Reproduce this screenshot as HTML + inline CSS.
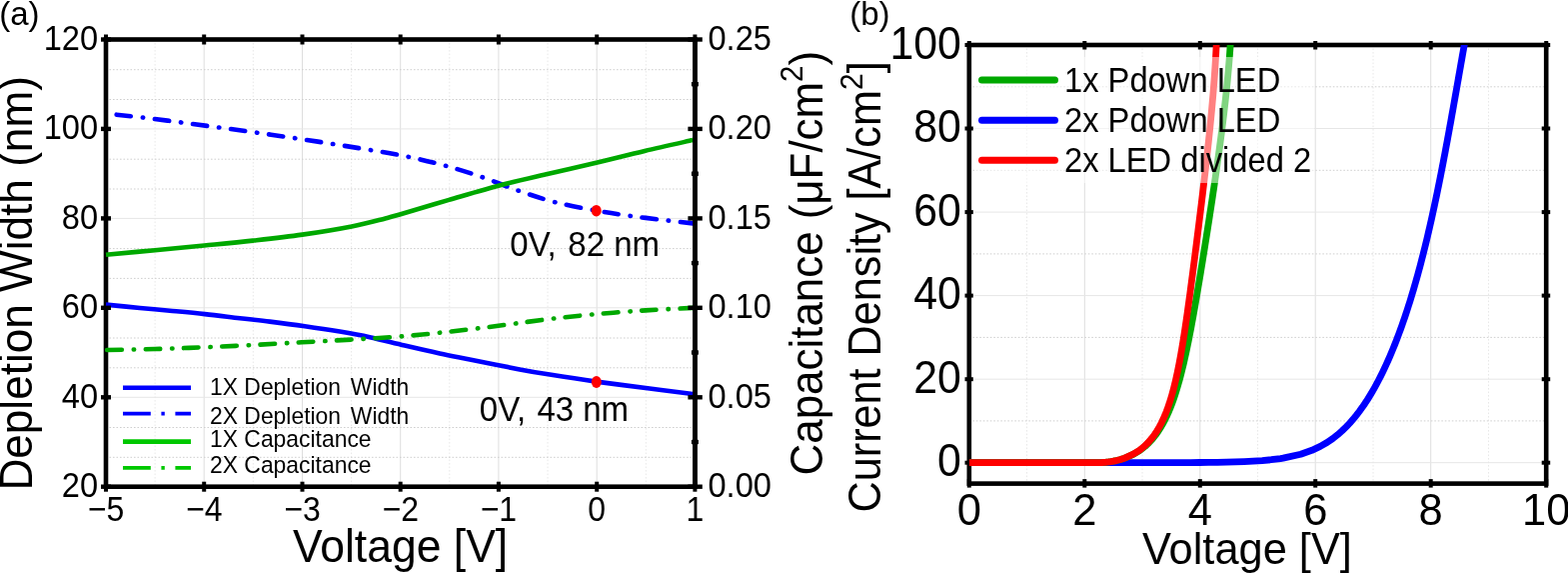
<!DOCTYPE html>
<html lang="en"><head><meta charset="utf-8"><title>Depletion width / capacitance and current density vs voltage</title>
<style>
html,body{margin:0;padding:0;background:#fff;}
body{width:1569px;height:574px;overflow:hidden;}
svg{display:block;}
text{font-family:"Liberation Sans", Arial, Helvetica, sans-serif;fill:#000;}
</style></head><body>
<svg width="1569" height="574" viewBox="0 0 1569 574">
<rect x="0" y="0" width="1569" height="574" fill="#fff"/>
<g id="plot-a">
<line x1="204.2" y1="39.5" x2="204.2" y2="486.7" stroke="#dedede" stroke-width="1"/>
<line x1="302.5" y1="39.5" x2="302.5" y2="486.7" stroke="#dedede" stroke-width="1"/>
<line x1="400.7" y1="39.5" x2="400.7" y2="486.7" stroke="#dedede" stroke-width="1"/>
<line x1="498.9" y1="39.5" x2="498.9" y2="486.7" stroke="#dedede" stroke-width="1"/>
<line x1="597.2" y1="39.5" x2="597.2" y2="486.7" stroke="#dedede" stroke-width="1"/>
<line x1="155.1" y1="39.5" x2="155.1" y2="486.7" stroke="#e8e8e8" stroke-width="1" stroke-dasharray="1.6,1.9"/>
<line x1="253.3" y1="39.5" x2="253.3" y2="486.7" stroke="#e8e8e8" stroke-width="1" stroke-dasharray="1.6,1.9"/>
<line x1="351.6" y1="39.5" x2="351.6" y2="486.7" stroke="#e8e8e8" stroke-width="1" stroke-dasharray="1.6,1.9"/>
<line x1="449.8" y1="39.5" x2="449.8" y2="486.7" stroke="#e8e8e8" stroke-width="1" stroke-dasharray="1.6,1.9"/>
<line x1="548.0" y1="39.5" x2="548.0" y2="486.7" stroke="#e8e8e8" stroke-width="1" stroke-dasharray="1.6,1.9"/>
<line x1="646.3" y1="39.5" x2="646.3" y2="486.7" stroke="#e8e8e8" stroke-width="1" stroke-dasharray="1.6,1.9"/>
<line x1="106.0" y1="397.3" x2="695.4" y2="397.3" stroke="#e6e6e6" stroke-width="1"/>
<line x1="106.0" y1="307.8" x2="695.4" y2="307.8" stroke="#e6e6e6" stroke-width="1"/>
<line x1="106.0" y1="218.4" x2="695.4" y2="218.4" stroke="#e6e6e6" stroke-width="1"/>
<line x1="106.0" y1="128.9" x2="695.4" y2="128.9" stroke="#e6e6e6" stroke-width="1"/>
<line x1="106.0" y1="457.3" x2="695.4" y2="457.3" stroke="#cfcfcf" stroke-width="1" stroke-dasharray="1.6,1.9"/>
<line x1="106.0" y1="427.5" x2="695.4" y2="427.5" stroke="#cfcfcf" stroke-width="1" stroke-dasharray="1.6,1.9"/>
<line x1="106.0" y1="367.8" x2="695.4" y2="367.8" stroke="#cfcfcf" stroke-width="1" stroke-dasharray="1.6,1.9"/>
<line x1="106.0" y1="338.0" x2="695.4" y2="338.0" stroke="#cfcfcf" stroke-width="1" stroke-dasharray="1.6,1.9"/>
<line x1="106.0" y1="278.4" x2="695.4" y2="278.4" stroke="#cfcfcf" stroke-width="1" stroke-dasharray="1.6,1.9"/>
<line x1="106.0" y1="248.6" x2="695.4" y2="248.6" stroke="#cfcfcf" stroke-width="1" stroke-dasharray="1.6,1.9"/>
<line x1="106.0" y1="189.0" x2="695.4" y2="189.0" stroke="#cfcfcf" stroke-width="1" stroke-dasharray="1.6,1.9"/>
<line x1="106.0" y1="159.2" x2="695.4" y2="159.2" stroke="#cfcfcf" stroke-width="1" stroke-dasharray="1.6,1.9"/>
<line x1="106.0" y1="99.5" x2="695.4" y2="99.5" stroke="#cfcfcf" stroke-width="1" stroke-dasharray="1.6,1.9"/>
<line x1="106.0" y1="69.7" x2="695.4" y2="69.7" stroke="#cfcfcf" stroke-width="1" stroke-dasharray="1.6,1.9"/>
<rect x="106.0" y="39.5" width="589.4" height="447.2" fill="none" stroke="#000" stroke-width="4.6"/>
<path d="M106.00,304.60 C111.67,305.17 129.33,306.98 140.00,308.00 C150.67,309.02 159.17,309.68 170.00,310.70 C180.83,311.72 193.33,312.85 205.00,314.10 C216.67,315.35 229.17,316.95 240.00,318.20 C250.83,319.45 259.17,320.27 270.00,321.60 C280.83,322.93 293.33,324.53 305.00,326.20 C316.67,327.87 329.17,329.77 340.00,331.60 C350.83,333.43 359.17,334.87 370.00,337.20 C380.83,339.53 393.33,342.88 405.00,345.60 C416.67,348.32 429.17,351.18 440.00,353.50 C450.83,355.82 456.67,356.85 470.00,359.50 C483.33,362.15 506.67,366.88 520.00,369.40 C533.33,371.92 537.23,372.57 550.00,374.60 C562.77,376.63 579.93,379.28 596.60,381.60 C613.27,383.92 633.90,386.43 650.00,388.50 C666.10,390.57 686.00,393.08 693.20,394.00" fill="none" stroke="#0000ff" stroke-width="4.6" stroke-linejoin="round"/>
<path d="M116.00,114.60 C120.43,115.08 131.85,116.22 142.60,117.50 C153.35,118.78 167.85,120.65 180.50,122.30 C193.15,123.95 205.82,125.68 218.50,127.40 C231.18,129.12 243.90,130.82 256.60,132.60 C269.30,134.38 282.05,136.22 294.70,138.10 C307.35,139.98 319.90,141.92 332.50,143.90 C345.10,145.88 357.62,147.85 370.30,150.00 C382.98,152.15 396.03,154.18 408.60,156.80 C421.17,159.42 433.30,162.28 445.70,165.70 C458.10,169.12 470.77,173.12 483.00,177.30 C495.23,181.48 507.03,186.65 519.10,190.80 C531.17,194.95 542.48,198.90 555.40,202.20 C568.32,205.50 584.08,208.32 596.60,210.60 C609.12,212.88 618.60,214.25 630.50,215.90 C642.40,217.55 657.55,219.25 668.00,220.50 C678.45,221.75 689.00,222.92 693.20,223.40" fill="none" stroke="#0000ff" stroke-width="4.6" stroke-linecap="round" stroke-dasharray="14.3,11.9,0.4,11.78" stroke-dashoffset="-0.8"/>
<path d="M106.00,254.70 C114.18,253.95 138.70,251.73 155.10,250.20 C171.50,248.67 188.08,247.10 204.40,245.50 C220.72,243.90 236.65,242.42 253.00,240.60 C269.35,238.78 286.02,236.97 302.50,234.60 C318.98,232.23 338.07,229.10 351.90,226.40 C365.73,223.70 377.35,220.43 385.50,218.40 C393.65,216.37 390.17,217.28 400.80,214.20 C411.43,211.12 432.37,204.80 449.30,199.90 C466.23,195.00 485.62,189.20 502.40,184.80 C519.18,180.40 534.30,177.17 550.00,173.50 C565.70,169.83 580.75,166.57 596.60,162.80 C612.45,159.03 629.00,154.68 645.10,150.90 C661.20,147.12 685.18,141.90 693.20,140.10" fill="none" stroke="#00a800" stroke-width="4.6" stroke-linejoin="round"/>
<path d="M106.00,350.00 C114.17,349.83 138.67,349.45 155.00,349.00 C171.33,348.55 187.67,347.97 204.00,347.30 C220.33,346.63 236.67,345.83 253.00,345.00 C269.33,344.17 285.67,343.20 302.00,342.30 C318.33,341.40 334.60,340.57 351.00,339.60 C367.40,338.63 384.02,337.82 400.40,336.50 C416.78,335.18 432.92,333.48 449.30,331.70 C465.68,329.92 482.38,327.87 498.70,325.80 C515.02,323.73 530.88,321.25 547.20,319.30 C563.52,317.35 580.10,315.58 596.60,314.10 C613.10,312.62 630.10,311.43 646.20,310.40 C662.30,309.37 685.37,308.32 693.20,307.90" fill="none" stroke="#00a800" stroke-width="4.6" stroke-linecap="round" stroke-dasharray="14.6,11.9,0.4,11.42" stroke-dashoffset="-1.3"/>
<ellipse cx="596.7" cy="210.7" rx="5.0" ry="5.8" fill="#ff0000"/>
<ellipse cx="596.8" cy="381.9" rx="5.0" ry="6.0" fill="#ff0000"/>
<line x1="695.4" y1="39.5" x2="695.4" y2="486.7" stroke="#000" stroke-width="4.6"/>
<line x1="106.0" y1="481.7" x2="106.0" y2="491.7" stroke="#000" stroke-width="4"/>
<line x1="106.0" y1="34.5" x2="106.0" y2="44.5" stroke="#000" stroke-width="4"/>
<line x1="204.2" y1="481.7" x2="204.2" y2="491.7" stroke="#000" stroke-width="4"/>
<line x1="204.2" y1="34.5" x2="204.2" y2="44.5" stroke="#000" stroke-width="4"/>
<line x1="302.5" y1="481.7" x2="302.5" y2="491.7" stroke="#000" stroke-width="4"/>
<line x1="302.5" y1="34.5" x2="302.5" y2="44.5" stroke="#000" stroke-width="4"/>
<line x1="400.7" y1="481.7" x2="400.7" y2="491.7" stroke="#000" stroke-width="4"/>
<line x1="400.7" y1="34.5" x2="400.7" y2="44.5" stroke="#000" stroke-width="4"/>
<line x1="498.9" y1="481.7" x2="498.9" y2="491.7" stroke="#000" stroke-width="4"/>
<line x1="498.9" y1="34.5" x2="498.9" y2="44.5" stroke="#000" stroke-width="4"/>
<line x1="597.2" y1="481.7" x2="597.2" y2="491.7" stroke="#000" stroke-width="4"/>
<line x1="597.2" y1="34.5" x2="597.2" y2="44.5" stroke="#000" stroke-width="4"/>
<line x1="695.4" y1="481.7" x2="695.4" y2="491.7" stroke="#000" stroke-width="4"/>
<line x1="695.4" y1="34.5" x2="695.4" y2="44.5" stroke="#000" stroke-width="4"/>
<line x1="101.0" y1="486.7" x2="111.0" y2="486.7" stroke="#000" stroke-width="4.4"/>
<line x1="101.0" y1="397.3" x2="111.0" y2="397.3" stroke="#000" stroke-width="4.4"/>
<line x1="101.0" y1="307.8" x2="111.0" y2="307.8" stroke="#000" stroke-width="4.4"/>
<line x1="101.0" y1="218.4" x2="111.0" y2="218.4" stroke="#000" stroke-width="4.4"/>
<line x1="101.0" y1="128.9" x2="111.0" y2="128.9" stroke="#000" stroke-width="4.4"/>
<line x1="101.0" y1="39.5" x2="111.0" y2="39.5" stroke="#000" stroke-width="4.4"/>
<line x1="688.4" y1="486.7" x2="702.8" y2="486.7" stroke="#000" stroke-width="4.4"/>
<line x1="688.4" y1="397.3" x2="702.8" y2="397.3" stroke="#000" stroke-width="4.4"/>
<line x1="688.4" y1="307.8" x2="702.8" y2="307.8" stroke="#000" stroke-width="4.4"/>
<line x1="688.4" y1="218.4" x2="702.8" y2="218.4" stroke="#000" stroke-width="4.4"/>
<line x1="688.4" y1="128.9" x2="702.8" y2="128.9" stroke="#000" stroke-width="4.4"/>
<line x1="688.4" y1="39.5" x2="702.8" y2="39.5" stroke="#000" stroke-width="4.4"/>
<line x1="691.9" y1="442.0" x2="698.9" y2="442.0" stroke="#000" stroke-width="4.4"/>
<line x1="691.9" y1="352.5" x2="698.9" y2="352.5" stroke="#000" stroke-width="4.4"/>
<line x1="691.9" y1="263.1" x2="698.9" y2="263.1" stroke="#000" stroke-width="4.4"/>
<line x1="691.9" y1="173.7" x2="698.9" y2="173.7" stroke="#000" stroke-width="4.4"/>
<line x1="691.9" y1="84.2" x2="698.9" y2="84.2" stroke="#000" stroke-width="4.4"/>
<text transform="translate(98.10,497.10) scale(1,1.065)" font-size="32.6" text-anchor="end">20</text>
<text transform="translate(98.10,407.66) scale(1,1.065)" font-size="32.6" text-anchor="end">40</text>
<text transform="translate(98.10,318.22) scale(1,1.065)" font-size="32.6" text-anchor="end">60</text>
<text transform="translate(98.10,228.78) scale(1,1.065)" font-size="32.6" text-anchor="end">80</text>
<text transform="translate(98.10,139.34) scale(1,1.065)" font-size="32.6" text-anchor="end">100</text>
<text transform="translate(98.10,49.90) scale(1,1.065)" font-size="32.6" text-anchor="end">120</text>
<text transform="translate(708.50,497.10) scale(1,1.065)" font-size="32.6">0.00</text>
<text transform="translate(708.50,407.66) scale(1,1.065)" font-size="32.6">0.05</text>
<text transform="translate(708.50,318.22) scale(1,1.065)" font-size="32.6">0.10</text>
<text transform="translate(708.50,228.78) scale(1,1.065)" font-size="32.6">0.15</text>
<text transform="translate(708.50,139.34) scale(1,1.065)" font-size="32.6">0.20</text>
<text transform="translate(708.50,49.90) scale(1,1.065)" font-size="32.6">0.25</text>
<text transform="translate(106.00,520.70) scale(1,1.085)" font-size="32" text-anchor="middle">−5</text>
<text transform="translate(204.23,520.70) scale(1,1.085)" font-size="32" text-anchor="middle">−4</text>
<text transform="translate(302.47,520.70) scale(1,1.085)" font-size="32" text-anchor="middle">−3</text>
<text transform="translate(400.70,520.70) scale(1,1.085)" font-size="32" text-anchor="middle">−2</text>
<text transform="translate(498.93,520.70) scale(1,1.085)" font-size="32" text-anchor="middle">−1</text>
<text transform="translate(597.17,520.70) scale(1,1.085)" font-size="32" text-anchor="middle">0</text>
<text transform="translate(695.40,520.70) scale(1,1.085)" font-size="32" text-anchor="middle">1</text>
<line x1="123" y1="387.7" x2="191" y2="387.7" stroke="#0000ff" stroke-width="4.4"/>
<line x1="123" y1="413.6" x2="191" y2="413.6" stroke="#0000ff" stroke-width="3.8" stroke-dasharray="27.8,10.6,3.4,10.6"/>
<line x1="123" y1="441.6" x2="191" y2="441.6" stroke="#00c800" stroke-width="4.6"/>
<line x1="123" y1="467.9" x2="191" y2="467.9" stroke="#00c800" stroke-width="3.8" stroke-dasharray="27.8,10.6,3.4,10.6"/>
<text transform="translate(210.00,394.90) scale(1,1.054)" font-size="22.9">1X Depletion <tspan x="140.8">Width</tspan></text>
<text transform="translate(210.00,423.60) scale(1,1.054)" font-size="22.9">2X Depletion <tspan x="140.8">Width</tspan></text>
<text transform="translate(210.00,446.90) scale(1,1.054)" font-size="22.9">1X Capacitance</text>
<text transform="translate(210.00,472.60) scale(1,1.054)" font-size="22.9">2X Capacitance</text>
<text transform="translate(0,255.9) scale(1,1.075)" font-size="33"><tspan x="510.3">0V,</tspan><tspan x="568.3">82 nm</tspan></text>
<text transform="translate(0,421) scale(1,1.075)" font-size="33"><tspan x="479.8">0V,</tspan><tspan x="537.4">43 nm</tspan></text>
<text x="0" y="0" font-size="44.14" transform="translate(32.4,490.6) rotate(-90) scale(1,1.03)">Depletion Width (nm)</text>
<text x="0" y="0" font-size="43.9" transform="translate(822.5,475.4) rotate(-90) scale(1,1.065)">Capacitance (μF/cm<tspan font-size="29.5" dy="-18">2</tspan><tspan dy="18">)</tspan></text>
<text transform="translate(293.00,561.60) scale(1,1.02)" font-size="44.5">Voltage [V]</text>
<text x="-0.80" y="25.30" font-size="33">(a)</text>
</g>
<g id="plot-b">
<line x1="1085.3" y1="45.0" x2="1085.3" y2="483.6" stroke="#dedede" stroke-width="1"/>
<line x1="1200.8" y1="45.0" x2="1200.8" y2="483.6" stroke="#dedede" stroke-width="1"/>
<line x1="1316.2" y1="45.0" x2="1316.2" y2="483.6" stroke="#dedede" stroke-width="1"/>
<line x1="1431.7" y1="45.0" x2="1431.7" y2="483.6" stroke="#dedede" stroke-width="1"/>
<line x1="1027.5" y1="45.0" x2="1027.5" y2="483.6" stroke="#e8e8e8" stroke-width="1" stroke-dasharray="1.6,1.9"/>
<line x1="1143.0" y1="45.0" x2="1143.0" y2="483.6" stroke="#e8e8e8" stroke-width="1" stroke-dasharray="1.6,1.9"/>
<line x1="1258.5" y1="45.0" x2="1258.5" y2="483.6" stroke="#e8e8e8" stroke-width="1" stroke-dasharray="1.6,1.9"/>
<line x1="1374.0" y1="45.0" x2="1374.0" y2="483.6" stroke="#e8e8e8" stroke-width="1" stroke-dasharray="1.6,1.9"/>
<line x1="1489.5" y1="45.0" x2="1489.5" y2="483.6" stroke="#e8e8e8" stroke-width="1" stroke-dasharray="1.6,1.9"/>
<line x1="969.8" y1="462.7" x2="1547.2" y2="462.7" stroke="#e6e6e6" stroke-width="1"/>
<line x1="969.8" y1="379.2" x2="1547.2" y2="379.2" stroke="#e6e6e6" stroke-width="1"/>
<line x1="969.8" y1="295.6" x2="1547.2" y2="295.6" stroke="#e6e6e6" stroke-width="1"/>
<line x1="969.8" y1="212.1" x2="1547.2" y2="212.1" stroke="#e6e6e6" stroke-width="1"/>
<line x1="969.8" y1="128.5" x2="1547.2" y2="128.5" stroke="#e6e6e6" stroke-width="1"/>
<line x1="969.8" y1="420.9" x2="1547.2" y2="420.9" stroke="#cfcfcf" stroke-width="1" stroke-dasharray="1.6,1.9"/>
<line x1="969.8" y1="337.4" x2="1547.2" y2="337.4" stroke="#cfcfcf" stroke-width="1" stroke-dasharray="1.6,1.9"/>
<line x1="969.8" y1="253.9" x2="1547.2" y2="253.9" stroke="#cfcfcf" stroke-width="1" stroke-dasharray="1.6,1.9"/>
<line x1="969.8" y1="170.3" x2="1547.2" y2="170.3" stroke="#cfcfcf" stroke-width="1" stroke-dasharray="1.6,1.9"/>
<line x1="969.8" y1="86.8" x2="1547.2" y2="86.8" stroke="#cfcfcf" stroke-width="1" stroke-dasharray="1.6,1.9"/>
<rect x="969.8" y="45.0" width="577.4" height="438.6" fill="none" stroke="#000" stroke-width="4.6"/>
<line x1="969.8" y1="479.1" x2="969.8" y2="487.6" stroke="#000" stroke-width="4"/>
<line x1="969.8" y1="41.0" x2="969.8" y2="49.5" stroke="#000" stroke-width="4"/>
<line x1="1085.3" y1="479.1" x2="1085.3" y2="487.6" stroke="#000" stroke-width="4"/>
<line x1="1085.3" y1="41.0" x2="1085.3" y2="49.5" stroke="#000" stroke-width="4"/>
<line x1="1200.8" y1="479.1" x2="1200.8" y2="487.6" stroke="#000" stroke-width="4"/>
<line x1="1200.8" y1="41.0" x2="1200.8" y2="49.5" stroke="#000" stroke-width="4"/>
<line x1="1316.2" y1="479.1" x2="1316.2" y2="487.6" stroke="#000" stroke-width="4"/>
<line x1="1316.2" y1="41.0" x2="1316.2" y2="49.5" stroke="#000" stroke-width="4"/>
<line x1="1431.7" y1="479.1" x2="1431.7" y2="487.6" stroke="#000" stroke-width="4"/>
<line x1="1431.7" y1="41.0" x2="1431.7" y2="49.5" stroke="#000" stroke-width="4"/>
<line x1="1547.2" y1="479.1" x2="1547.2" y2="487.6" stroke="#000" stroke-width="4"/>
<line x1="1547.2" y1="41.0" x2="1547.2" y2="49.5" stroke="#000" stroke-width="4"/>
<line x1="965.5" y1="462.7" x2="973.8" y2="462.7" stroke="#000" stroke-width="4"/>
<line x1="1542.7" y1="462.7" x2="1551.2" y2="462.7" stroke="#000" stroke-width="4"/>
<line x1="965.5" y1="379.2" x2="973.8" y2="379.2" stroke="#000" stroke-width="4"/>
<line x1="1542.7" y1="379.2" x2="1551.2" y2="379.2" stroke="#000" stroke-width="4"/>
<line x1="965.5" y1="295.6" x2="973.8" y2="295.6" stroke="#000" stroke-width="4"/>
<line x1="1542.7" y1="295.6" x2="1551.2" y2="295.6" stroke="#000" stroke-width="4"/>
<line x1="965.5" y1="212.1" x2="973.8" y2="212.1" stroke="#000" stroke-width="4"/>
<line x1="1542.7" y1="212.1" x2="1551.2" y2="212.1" stroke="#000" stroke-width="4"/>
<line x1="965.5" y1="128.5" x2="973.8" y2="128.5" stroke="#000" stroke-width="4"/>
<line x1="1542.7" y1="128.5" x2="1551.2" y2="128.5" stroke="#000" stroke-width="4"/>
<line x1="965.5" y1="45.0" x2="973.8" y2="45.0" stroke="#000" stroke-width="4"/>
<line x1="1542.7" y1="45.0" x2="1551.2" y2="45.0" stroke="#000" stroke-width="4"/>
<clipPath id="clipb"><rect x="969.8" y="45.0" width="577.4" height="438.6"/></clipPath>
<g clip-path="url(#clipb)">
<path d="M969.80,462.71 L970.07,462.71 L970.17,462.71 L970.32,462.71 L970.51,462.71 L970.79,462.71 L971.16,462.71 L971.67,462.71 L972.37,462.71 L973.31,462.71 L974.56,462.71 L976.21,462.71 L978.34,462.71 L981.05,462.71 L984.42,462.71 L988.49,462.71 L993.28,462.71 L998.79,462.71 L1004.95,462.71 L1011.68,462.71 L1018.90,462.71 L1026.51,462.71 L1034.44,462.71 L1042.61,462.71 L1050.97,462.71 L1059.46,462.71 L1068.05,462.71 L1076.72,462.71 L1085.45,462.71 L1094.21,462.71 L1103.00,462.71 L1111.82,462.71 L1120.64,462.70 L1129.48,462.70 L1138.33,462.69 L1147.19,462.68 L1156.04,462.67 L1164.91,462.66 L1173.78,462.63 L1182.65,462.60 L1191.52,462.56 L1200.40,462.50 L1209.29,462.41 L1218.19,462.30 L1227.10,462.13 L1236.02,461.91 L1244.97,461.59 L1253.96,461.16 L1262.98,460.55 L1272.07,459.71 L1281.25,458.54 L1283.93,458.12 L1301.53,454.21 L1312.72,450.31 L1321.08,446.40 L1327.84,442.50 L1333.57,438.59 L1338.56,434.69 L1343.00,430.78 L1347.03,426.88 L1350.72,422.97 L1354.14,419.07 L1357.33,415.16 L1360.32,411.26 L1363.14,407.35 L1365.82,403.45 L1368.37,399.54 L1370.80,395.64 L1373.12,391.73 L1375.36,387.83 L1377.51,383.92 L1379.58,380.02 L1381.58,376.11 L1383.51,372.21 L1385.38,368.30 L1387.19,364.40 L1388.95,360.49 L1390.66,356.59 L1392.33,352.68 L1393.95,348.78 L1395.53,344.87 L1397.06,340.97 L1398.57,337.06 L1400.03,333.16 L1401.46,329.25 L1402.86,325.35 L1404.23,321.44 L1405.57,317.54 L1406.88,313.63 L1408.17,309.73 L1409.42,305.82 L1410.66,301.92 L1411.87,298.01 L1413.06,294.11 L1414.22,290.20 L1415.37,286.30 L1416.49,282.39 L1417.59,278.49 L1418.68,274.58 L1419.75,270.68 L1420.79,266.77 L1421.83,262.87 L1422.84,258.96 L1423.84,255.06 L1424.83,251.15 L1425.80,247.25 L1426.76,243.34 L1427.70,239.44 L1428.63,235.53 L1429.54,231.63 L1430.45,227.72 L1431.34,223.82 L1432.22,219.91 L1433.09,216.01 L1433.95,212.10 L1434.80,208.20 L1435.64,204.29 L1436.47,200.39 L1437.29,196.48 L1438.10,192.58 L1438.90,188.67 L1439.70,184.77 L1440.48,180.86 L1441.26,176.96 L1442.03,173.05 L1442.80,169.15 L1443.56,165.24 L1444.31,161.34 L1445.06,157.43 L1445.80,153.53 L1446.53,149.62 L1447.27,145.72 L1447.99,141.81 L1448.71,137.91 L1449.43,134.00 L1450.14,130.09 L1450.85,126.19 L1451.56,122.28 L1452.26,118.38 L1452.96,114.47 L1453.66,110.57 L1454.36,106.66 L1455.05,102.76 L1455.74,98.85 L1456.43,94.95 L1457.12,91.04 L1457.81,87.14 L1458.49,83.23 L1459.18,79.33 L1459.86,75.42 L1460.55,71.52 L1461.23,67.61 L1461.92,63.71 L1462.61,59.80 L1463.29,55.90 L1463.98,51.99 L1464.67,48.09 L1465.36,44.18 L1466.05,40.28 L1466.75,36.37 L1467.44,32.47" fill="none" stroke="#0000ff" stroke-width="6.8" stroke-linejoin="round"/>
<path d="M969.80,462.71 L1093.72,462.71 L1093.79,462.71 L1093.86,462.71 L1093.92,462.71 L1093.99,462.71 L1094.06,462.71 L1094.13,462.71 L1094.20,462.71 L1094.27,462.71 L1094.34,462.71 L1094.42,462.71 L1094.49,462.71 L1094.57,462.71 L1094.65,462.71 L1094.73,462.71 L1094.81,462.71 L1094.90,462.71 L1094.98,462.71 L1095.08,462.71 L1095.18,462.71 L1095.28,462.71 L1095.39,462.71 L1095.51,462.71 L1095.64,462.71 L1095.78,462.71 L1095.94,462.71 L1096.11,462.71 L1096.30,462.71 L1096.51,462.71 L1096.75,462.71 L1097.01,462.71 L1097.32,462.70 L1097.66,462.70 L1098.06,462.69 L1098.51,462.68 L1099.03,462.67 L1099.63,462.66 L1100.32,462.63 L1101.12,462.60 L1102.04,462.56 L1103.12,462.50 L1104.36,462.41 L1105.81,462.30 L1107.48,462.13 L1109.41,461.91 L1111.64,461.59 L1114.21,461.16 L1117.15,460.55 L1120.53,459.71 L1124.36,458.54 L1125.56,458.12 L1134.38,454.21 L1140.72,450.31 L1145.73,446.40 L1149.89,442.50 L1153.44,438.59 L1156.55,434.69 L1159.30,430.78 L1161.76,426.88 L1164.00,422.97 L1166.03,419.07 L1167.91,415.16 L1169.64,411.26 L1171.26,407.35 L1172.76,403.45 L1174.18,399.54 L1175.51,395.64 L1176.77,391.73 L1177.97,387.83 L1179.11,383.92 L1180.20,380.02 L1181.25,376.11 L1182.25,372.21 L1183.22,368.30 L1184.15,364.40 L1185.05,360.49 L1185.93,356.59 L1186.78,352.68 L1187.61,348.78 L1188.42,344.87 L1189.21,340.97 L1189.99,337.06 L1190.75,333.16 L1191.50,329.25 L1192.23,325.35 L1192.95,321.44 L1193.67,317.54 L1194.37,313.63 L1195.07,309.73 L1195.76,305.82 L1196.44,301.92 L1197.11,298.01 L1197.78,294.11 L1198.44,290.20 L1199.10,286.30 L1199.76,282.39 L1200.41,278.49 L1201.05,274.58 L1201.70,270.68 L1202.34,266.77 L1202.97,262.87 L1203.61,258.96 L1204.24,255.06 L1204.86,251.15 L1205.49,247.25 L1206.11,243.34 L1206.73,239.44 L1207.35,235.53 L1207.96,231.63 L1208.57,227.72 L1209.18,223.82 L1209.79,219.91 L1210.39,216.01 L1210.99,212.10 L1211.59,208.20 L1212.18,204.29 L1212.77,200.39 L1213.36,196.48 L1213.94,192.58 L1214.52,188.67 L1215.10,184.77 L1215.67,180.86 L1216.24,176.96 L1216.80,173.05 L1217.36,169.15 L1217.92,165.24 L1218.47,161.34 L1219.01,157.43 L1219.55,153.53 L1220.08,149.62 L1220.61,145.72 L1221.13,141.81 L1221.64,137.91 L1222.14,134.00 L1222.64,130.09 L1223.13,126.19 L1223.62,122.28 L1224.09,118.38 L1224.56,114.47 L1225.02,110.57 L1225.47,106.66 L1225.91,102.76 L1226.34,98.85 L1226.76,94.95 L1227.17,91.04 L1227.58,87.14 L1227.97,83.23 L1228.34,79.33 L1228.71,75.42 L1229.07,71.52 L1229.41,67.61 L1229.74,63.71 L1230.06,59.80 L1230.37,55.90 L1230.66,51.99 L1230.93,48.09 L1231.20,44.18 L1231.45,40.28 L1231.68,36.37 L1231.90,32.47" fill="none" stroke="#00a800" stroke-width="6.8" stroke-linejoin="round"/>
<path d="M969.80,462.71 L1093.72,462.71 L1093.79,462.71 L1093.86,462.71 L1093.92,462.71 L1093.99,462.71 L1094.06,462.71 L1094.13,462.71 L1094.20,462.71 L1094.27,462.71 L1094.34,462.71 L1094.42,462.71 L1094.49,462.71 L1094.57,462.71 L1094.65,462.71 L1094.73,462.71 L1094.81,462.71 L1094.90,462.71 L1094.98,462.71 L1095.08,462.71 L1095.18,462.71 L1095.28,462.71 L1095.39,462.71 L1095.51,462.71 L1095.64,462.71 L1095.78,462.71 L1095.94,462.71 L1096.11,462.71 L1096.30,462.71 L1096.51,462.71 L1096.75,462.71 L1097.01,462.71 L1097.32,462.70 L1097.66,462.70 L1098.05,462.69 L1098.51,462.68 L1099.03,462.67 L1099.62,462.66 L1100.31,462.63 L1101.11,462.60 L1102.04,462.56 L1103.11,462.50 L1104.35,462.41 L1105.79,462.30 L1107.45,462.13 L1109.37,461.91 L1111.58,461.59 L1114.13,461.16 L1117.05,460.55 L1120.38,459.71 L1124.16,458.54 L1125.34,458.12 L1133.97,454.21 L1140.13,450.31 L1144.96,446.40 L1148.93,442.50 L1152.31,438.59 L1155.23,434.69 L1157.80,430.78 L1160.09,426.88 L1162.15,422.97 L1164.01,419.07 L1165.71,415.16 L1167.27,411.26 L1168.71,407.35 L1170.05,403.45 L1171.29,399.54 L1172.46,395.64 L1173.55,391.73 L1174.58,387.83 L1175.55,383.92 L1176.48,380.02 L1177.36,376.11 L1178.20,372.21 L1179.00,368.30 L1179.77,364.40 L1180.52,360.49 L1181.23,356.59 L1181.93,352.68 L1182.60,348.78 L1183.26,344.87 L1183.89,340.97 L1184.52,337.06 L1185.12,333.16 L1185.72,329.25 L1186.30,325.35 L1186.88,321.44 L1187.44,317.54 L1188.00,313.63 L1188.55,309.73 L1189.09,305.82 L1189.63,301.92 L1190.16,298.01 L1190.69,294.11 L1191.21,290.20 L1191.73,286.30 L1192.24,282.39 L1192.75,278.49 L1193.26,274.58 L1193.77,270.68 L1194.27,266.77 L1194.78,262.87 L1195.28,258.96 L1195.78,255.06 L1196.27,251.15 L1196.77,247.25 L1197.26,243.34 L1197.75,239.44 L1198.24,235.53 L1198.73,231.63 L1199.22,227.72 L1199.70,223.82 L1200.19,219.91 L1200.67,216.01 L1201.15,212.10 L1201.63,208.20 L1202.11,204.29 L1202.58,200.39 L1203.05,196.48 L1203.52,192.58 L1203.99,188.67 L1204.45,184.77 L1204.91,180.86 L1205.37,176.96 L1205.82,173.05 L1206.27,169.15 L1206.72,165.24 L1207.16,161.34 L1207.60,157.43 L1208.03,153.53 L1208.46,149.62 L1208.88,145.72 L1209.30,141.81 L1209.71,137.91 L1210.12,134.00 L1210.52,130.09 L1210.92,126.19 L1211.30,122.28 L1211.68,118.38 L1212.06,114.47 L1212.42,110.57 L1212.78,106.66 L1213.13,102.76 L1213.47,98.85 L1213.81,94.95 L1214.13,91.04 L1214.44,87.14 L1214.75,83.23 L1215.04,79.33 L1215.33,75.42 L1215.60,71.52 L1215.86,67.61 L1216.11,63.71 L1216.35,59.80 L1216.58,55.90 L1216.79,51.99 L1216.99,48.09 L1217.18,44.18 L1217.36,40.28 L1217.52,36.37 L1217.67,32.47" fill="none" stroke="#ff0000" stroke-width="6.8" stroke-linejoin="round"/>
</g>
<rect x="975" y="57.0" width="340" height="126" fill="#ffffff" fill-opacity="0.5"/>
<line x1="982.5" y1="80" x2="1055.5" y2="80" stroke="#00a800" stroke-width="7" stroke-linecap="round"/>
<line x1="982.5" y1="120.2" x2="1055.5" y2="120.2" stroke="#0000ff" stroke-width="7" stroke-linecap="round"/>
<line x1="982.5" y1="160.3" x2="1055.5" y2="160.3" stroke="#ff0000" stroke-width="7" stroke-linecap="round"/>
<text transform="translate(1065.00,91.80) scale(1,1.075)" font-size="32.7">1x Pdown LED</text>
<text transform="translate(1065.00,131.90) scale(1,1.075)" font-size="32.7">2x Pdown LED</text>
<text transform="translate(1065.00,172.00) scale(1,1.075)" font-size="32.7">2x LED divided 2</text>
<text transform="translate(961.80,476.31) scale(1,1.07)" font-size="42.8" text-anchor="end">0</text>
<text transform="translate(961.80,392.77) scale(1,1.07)" font-size="42.8" text-anchor="end">20</text>
<text transform="translate(961.80,309.23) scale(1,1.07)" font-size="42.8" text-anchor="end">40</text>
<text transform="translate(961.80,225.69) scale(1,1.07)" font-size="42.8" text-anchor="end">60</text>
<text transform="translate(961.80,142.14) scale(1,1.07)" font-size="42.8" text-anchor="end">80</text>
<text transform="translate(961.80,58.60) scale(1,1.07)" font-size="42.8" text-anchor="end">100</text>
<text x="969.80" y="525.30" font-size="43.5" text-anchor="middle">0</text>
<text x="1085.28" y="525.30" font-size="43.5" text-anchor="middle">2</text>
<text x="1200.76" y="525.30" font-size="43.5" text-anchor="middle">4</text>
<text x="1316.24" y="525.30" font-size="43.5" text-anchor="middle">6</text>
<text x="1431.72" y="525.30" font-size="43.5" text-anchor="middle">8</text>
<text x="1547.20" y="525.30" font-size="43.5" text-anchor="middle">10</text>
<text x="0" y="0" font-size="43.2" transform="translate(880.6,512.4) rotate(-90) scale(1,1.07)">Current Density [A/cm<tspan font-size="30" dy="-16.5">2</tspan><tspan dy="16.5">]</tspan></text>
<text transform="translate(1143.00,563.60) scale(1,1.025)" font-size="43.4">Voltage [V]</text>
<text x="850.20" y="25.30" font-size="33">(b)</text>
</g>
</svg>
</body></html>
